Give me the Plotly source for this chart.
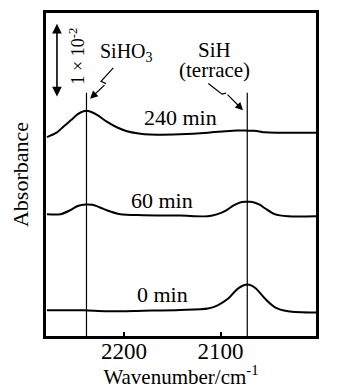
import plotly.graph_objects as go

# ---- data (absorbance in units of 1e-2, curves offset vertically) ----
wn_240 = [2280, 2270, 2263, 2255, 2248, 2242, 2236, 2228, 2218, 2207, 2197, 2185, 2173,
          2142, 2113, 2095, 2083, 2075, 2066, 2061, 2054, 2040, 2020, 2001]
abs_240 = [2.70, 2.76, 2.84, 2.93, 3.01, 3.05, 3.05, 3.00, 2.91, 2.83, 2.78, 2.75, 2.735,
           2.74, 2.76, 2.78, 2.79, 2.79, 2.785, 2.78, 2.765, 2.76, 2.76, 2.76]

wn_60 = [2280, 2266, 2256, 2248, 2240, 2233, 2225, 2218, 2204, 2180, 2142, 2113, 2103,
         2095, 2086, 2078, 2070, 2067, 2060, 2054, 2044, 2030, 2001]
abs_60 = [1.658, 1.658, 1.712, 1.77, 1.79, 1.785, 1.75, 1.712, 1.658, 1.645, 1.64, 1.631, 1.66,
          1.703, 1.78, 1.824, 1.826, 1.824, 1.79, 1.739, 1.66, 1.631, 1.631]

wn_0 = [2280, 2242, 2218, 2180, 2142, 2113, 2103, 2092, 2082, 2072, 2064, 2054, 2044, 2030, 2001]
abs_0 = [0.361, 0.361, 0.347, 0.355, 0.365, 0.384, 0.428, 0.519, 0.654, 0.708, 0.662, 0.519,
         0.405, 0.347, 0.33]

curve_labels = ["240 min", "60 min", "0 min"]
label_pos = [(2142, 2.97), (2161, 1.84), (2160, 0.58)]

peak_lines = [2239, 2072.3]          # SiHO3, SiH(terrace)
peak_line_top = 3.30
x_ticks = [2200, 2100, 2000]

FONT = "Liberation Serif, Times New Roman, serif"

fig = go.Figure()
for wn, ab in [(wn_240, abs_240), (wn_60, abs_60), (wn_0, abs_0)]:
    fig.add_trace(go.Scatter(x=wn, y=ab, mode="lines",
                             line=dict(color="black", width=2, shape="spline", smoothing=0.8),
                             showlegend=False, hoverinfo="skip"))

shapes = [dict(type="rect", xref="paper", yref="paper", x0=0, x1=1, y0=0, y1=1,
               line=dict(color="black", width=2), layer="above")]
for w in peak_lines:
    shapes.append(dict(type="line", xref="x", yref="y", x0=w, x1=w, y0=0, y1=peak_line_top,
                       line=dict(color="black", width=1.2)))
# zigzag starts of the lightning arrows
shapes.append(dict(type="path", xref="x", yref="y",
                   path="M 2211.2 3.635 L 2223.9 3.455 L 2218.8 3.422",
                   line=dict(color="black", width=1.2)))
shapes.append(dict(type="path", xref="x", yref="y",
                   path="M 2112.7 3.424 L 2098.5 3.280 L 2094.3 3.294",
                   line=dict(color="black", width=1.2)))

ann = []
for txt, (x, y) in zip(curve_labels, label_pos):
    ann.append(dict(x=x, y=y, xref="x", yref="y", text=txt, showarrow=False,
                    font=dict(family=FONT, size=22, color="black")))
ann.append(dict(x=2197, y=3.84, xref="x", yref="y", text="SiHO<sub>3</sub>", showarrow=False,
                font=dict(family=FONT, size=20, color="black")))
ann.append(dict(x=2106, y=3.88, xref="x", yref="y", text="SiH", showarrow=False,
                font=dict(family=FONT, size=21, color="black")))
ann.append(dict(x=2106, y=3.60, xref="x", yref="y", text="(terrace)", showarrow=False,
                font=dict(family=FONT, size=21, color="black")))
ann.append(dict(x=2248.8, y=3.79, xref="x", yref="y", text="1 × 10<sup>-2</sup>", showarrow=False,
                textangle=-90, font=dict(family=FONT, size=18, color="black")))
# arrow heads
ann.append(dict(x=2235.3, y=3.219, ax=2218.8, ay=3.422, xref="x", yref="y", axref="x", ayref="y",
                text="", showarrow=True, arrowhead=2, arrowsize=1.3, arrowwidth=1.2, arrowcolor="black"))
ann.append(dict(x=2076.7, y=3.064, ax=2094.3, ay=3.294, xref="x", yref="y", axref="x", ayref="y",
                text="", showarrow=True, arrowhead=2, arrowsize=1.3, arrowwidth=1.2, arrowcolor="black"))
# scale bar (double arrow)
ann.append(dict(x=2269.6, y=4.23, ax=2269.6, ay=3.23, xref="x", yref="y", axref="x", ayref="y",
                text="", showarrow=True, arrowhead=2, arrowside="end+start", arrowsize=1.2,
                arrowwidth=1.6, arrowcolor="black"))

fig.update_layout(
    width=337, height=389,
    margin=dict(l=45, r=20, t=12, b=52, autoexpand=False),
    plot_bgcolor="white", paper_bgcolor="white",
    shapes=shapes, annotations=ann,
    font=dict(family=FONT, color="black"),
)
fig.update_xaxes(range=[2282, 2000], tickvals=x_ticks, ticks="inside", ticklen=5, tickwidth=1.5,
                 tickcolor="black", showline=True, linewidth=2, linecolor="black", mirror=True,
                 showgrid=False, zeroline=False, tickfont=dict(family=FONT, size=23),
                 automargin=False, ticklabelstandoff=-8,
                 title=dict(text="Wavenumber/cm<sup>-1</sup>", font=dict(family=FONT, size=21), standoff=2))
fig.update_yaxes(range=[0, 4.39], showticklabels=False, ticks="", showline=True, linewidth=2,
                 linecolor="black", mirror=True, showgrid=False, zeroline=False, automargin=False,
                 title=dict(text="Absorbance", font=dict(family=FONT, size=22), standoff=8))

fig.write_html("out.html", config={"displayModeBar": False},
               post_script="document.body.style.margin='0';")
